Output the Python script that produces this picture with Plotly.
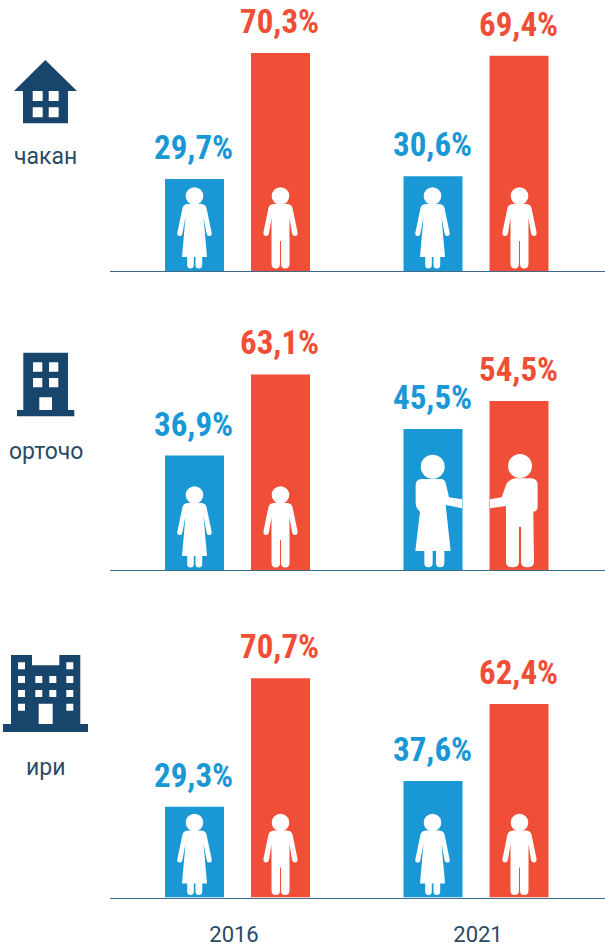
import re
import plotly.graph_objects as go

years = ["2016", "2021"]
row_labels = ["чакан", "орточо", "ири"]
women = [[29.7, 30.6], [36.9, 45.5], [29.3, 37.6]]
men = [[70.3, 69.4], [63.1, 54.5], [70.7, 62.4]]

W, H = 605, 947
BLUE, RED, NAVY, INK = "#1a98d5", "#f04e37", "#17456b", "#2b4a64"
baselines = [271, 570, 897.5]
PX_PER_PCT = 3.1
YMAX = 80
X0 = 110


def fmt(v):
    return f"{v:.1f}%".replace(".", ",")


def to_paper(path, dx=0.0, dy=0.0, s=1.0):
    def rep(m):
        x = (float(m.group(1)) * s + dx) / W
        y = 1 - (float(m.group(2)) * s + dy) / H
        return f"{x:.5f},{y:.5f}"
    return re.sub(r"(-?[\d.]+),(-?[\d.]+)", rep, path)


def rect(x0, y0, x1, y1):
    return f"M{x0},{y0} L{x1},{y0} L{x1},{y1} L{x0},{y1} Z "


WOMAN = ("M-6,8 L6,8 Q11,8 12,12 L17,36 Q18,40 15,40 Q12.5,40.5 12,37 L9,21 L12.5,61 L7.7,61 "
         "L7.7,69 Q7.7,72.5 4.3,72.5 Q1,72.5 1,69 L1,61 L-0.7,61 L-0.7,69 Q-0.7,72.5 -4,72.5 "
         "Q-7.3,72.5 -7.3,69 L-7.3,61 L-12.5,61 L-9,21 L-12,37 Q-12.5,40.5 -15,40 Q-18,40 -17,36 "
         "L-12,12 Q-11,8 -6,8 Z")
MAN = ("M-6,8 L6,8 Q11,8 12,12 L17,36 Q17.5,40 14.5,40 Q12,40 11.5,37 L9,22 L9,68 Q9,72.5 4.7,72.5 "
       "Q0.5,72.5 0.5,68 L0.5,45 L-0.5,45 L-0.5,68 Q-0.5,72.5 -4.7,72.5 Q-9,72.5 -9,68 L-9,22 "
       "L-11.5,37 Q-12,40 -14.5,40 Q-17.5,40 -17,36 L-12,12 Q-11,8 -6,8 Z")
BIG_WOMAN = ("M125,297 L185,297 Q195,298 197,310 L207,352 L246,358 L246,385 L197,375 L212,513 L193,513 "
             "L193,548 Q193,562 180,562 Q168,562 168,548 L168,513 L158,513 L158,548 Q158,562 145,562 "
             "Q133,562 133,548 L133,513 L106,513 L120,395 Q107,385 107,370 L107,315 Q107,298 125,297 Z")
BIG_MAN = ("M330,358 L365,352 L380,310 Q390,297 405,295 L455,295 Q473,297 473,315 L473,378 Q473,395 460,395 "
           "L462,545 Q462,562 442,562 Q423,562 423,545 L423,440 L417,440 L417,545 Q417,562 397,562 "
           "Q378,562 378,545 L378,378 L330,385 Z")

HOUSE = ("M45.3,60 L77,91 L68,91 L68,123.3 L23,123.3 L23,91 L14,91 Z "
         + rect(32.7, 91, 42.7, 101) + rect(48.7, 91, 58.7, 101)
         + rect(32.7, 107.3, 42.7, 117.3) + rect(48.7, 107.3, 58.7, 117.3))
MIDDLE = ("M23.3,352.7 L68,352.7 L68,410 L74.3,410 L74.3,416.3 L17,416.3 L17,410 L23.3,410 Z "
          + rect(33, 362.3, 42.3, 371.7) + rect(49, 362.3, 58.3, 371.7)
          + rect(33, 378, 42.3, 387.3) + rect(49, 378, 58.3, 387.3)
          + rect(39.3, 397.3, 52, 410))
cols = [(18, 25), (35.3, 42.3), (49.3, 56.3), (66.3, 73.3)]
rows = [(662.3, 669.3, (0, 3)), (676, 683, (0, 1, 2, 3)), (690, 697, (0, 1, 2, 3)), (703.7, 710.7, (0, 3))]
LARGE = ("M11,655 L32,655 L32,665.3 L59.3,665.3 L59.3,655 L80.3,655 L80.3,724 L88,724 L88,732 L3,732 L3,724 L11,724 Z "
         + "".join(rect(cols[c][0], r0, cols[c][1], r1) for r0, r1, cs in rows for c in cs)
         + rect(38.7, 703.7, 52.7, 724))

PX_PER_CAT = 238.5
OFFSET = 43 / PX_PER_CAT
LABEL_NUDGE = -1 / PX_PER_CAT
slots = list(range(len(years)))
tick_positions = [(234 - 237.5) / PX_PER_CAT, (478 - 237.5) / PX_PER_CAT]

fig = go.Figure()
layout = {}
annotations = []
for i in range(3):
    suf = "" if i == 0 else str(i + 1)
    for name, vals, col, off in (("женщины", women[i], BLUE, -OFFSET), ("мужчины", men[i], RED, OFFSET)):
        fig.add_trace(go.Bar(
            x=slots, y=vals, name=name, marker=dict(color=col, line_width=0),
            xaxis="x" + suf, yaxis="y" + suf, showlegend=False, hoverinfo="skip",
        ))
        for k, v in enumerate(vals):
            annotations.append(dict(
                text=fmt(v), xref="x" + suf, yref="y" + suf, x=k + off + LABEL_NUDGE, y=v, showarrow=False,
                xanchor="center", yanchor="bottom", yshift=10,
                font=dict(family="'Roboto Condensed','DejaVu Sans Condensed','Liberation Sans'",
                          size=33, color=col, weight="bold"),
            ))
    b = baselines[i]
    last = i == 2
    layout["xaxis" + suf] = dict(
        domain=[X0 / W, 1], anchor="y" + suf, type="linear", automargin=False,
        range=[(X0 - 237.5) / PX_PER_CAT, (W - 237.5) / PX_PER_CAT],
        tickmode="array", tickvals=tick_positions, ticktext=years,
        showline=True, linecolor="#3f6a8a", linewidth=1, showgrid=False, zeroline=False,
        showticklabels=last, ticks="outside" if last else "", ticklen=17,
        tickcolor="rgba(0,0,0,0)", tickfont=dict(family="Roboto", size=22, color=INK),
        layer="above traces",
    )
    layout["yaxis" + suf] = dict(
        domain=[1 - b / H, 1 - (b - YMAX * PX_PER_PCT) / H], anchor="x" + suf, automargin=False,
        range=[0, YMAX], visible=False, fixedrange=True,
    )

shapes = []


def add_path(path, color, **kw):
    shapes.append(dict(type="path", xref="paper", yref="paper", layer="above", line_width=0,
                       fillcolor=color, path=to_paper(path, **kw)))


def add_head(cx, cy, r):
    shapes.append(dict(type="circle", xref="paper", yref="paper", layer="above", line_width=0,
                       fillcolor="white", x0=(cx - r) / W, x1=(cx + r) / W,
                       y0=1 - (cy + r) / H, y1=1 - (cy - r) / H))


bar_centres = [(194.5, 280.5), (432.5, 519.5)]
for i, b in enumerate(baselines):
    for j, (cw, cm) in enumerate(bar_centres):
        if i == 1 and j == 1:
            continue
        hy = b - 75
        add_head(cw, hy, 8.8)
        add_head(cm, hy, 8.8)
        add_path(WOMAN, "white", dx=cw, dy=hy)
        add_path(MAN, "white", dx=cm, dy=hy)
add_head(432.7, 466.7, 12)
add_head(520, 466, 12)
add_path(BIG_WOMAN, "white", dx=380, dy=380, s=1 / 3)
add_path(BIG_MAN, "white", dx=380, dy=380, s=1 / 3)
for p in (HOUSE, MIDDLE, LARGE):
    add_path(p, NAVY)
for s in shapes:
    if s["fillcolor"] == NAVY:
        s["fillrule"] = "evenodd"

label_pos = [(45.5, 156), (45.5, 451), (45.5, 767)]
annotations += [dict(text=t, xref="paper", yref="paper", x=x / W, y=1 - y / H, showarrow=False,
                     xanchor="center", yanchor="middle",
                     font=dict(family="Roboto", size=23, color=INK))
                for t, (x, y) in zip(row_labels, label_pos)]

fig.update_layout(
    width=W, height=H, margin=dict(l=0, r=0, t=0, b=0, autoexpand=False), autosize=False,
    paper_bgcolor="white", plot_bgcolor="white",
    barmode="group", bargap=0.2788, bargroupgap=0.314,
    shapes=shapes, annotations=annotations, **layout,
)
POST = """
document.documentElement.style.overflow='hidden';
document.body.style.margin='0';
document.body.style.overflow='hidden';
"""
fig.write_html("out.html", config=dict(displayModeBar=False, responsive=False), post_script=POST)
